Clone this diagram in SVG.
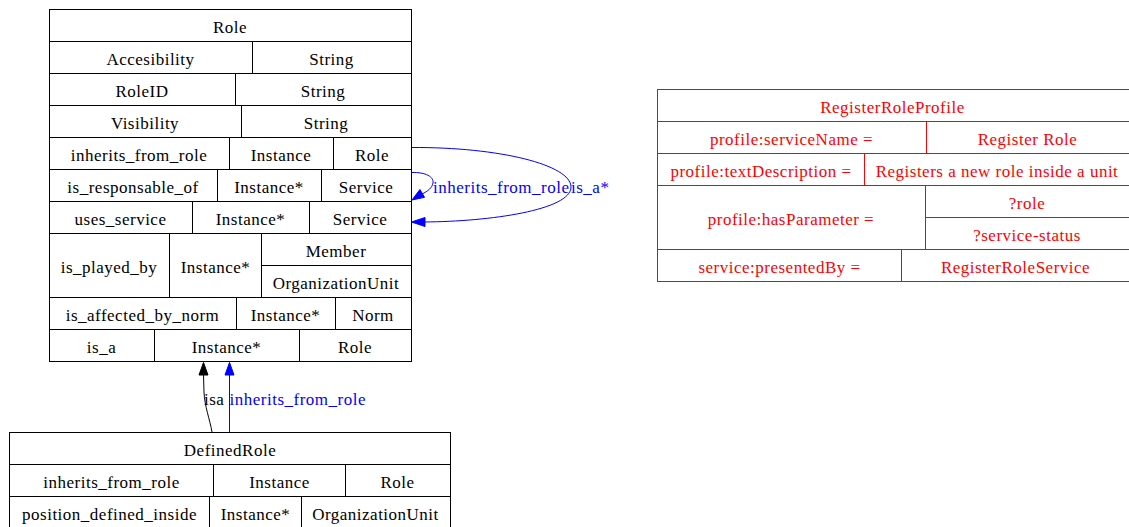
<svg xmlns="http://www.w3.org/2000/svg" width="1129" height="527" viewBox="0 0 1129 527">
<style>
text{font-family:"Liberation Serif","Times New Roman",serif;font-size:17px;letter-spacing:0.5px;text-anchor:middle}
.b rect,.b line{fill:none;stroke:#000;stroke-width:1}
.b text{fill:#000}
.r rect,.r line{fill:none;stroke:#ff0000;stroke-width:1}
.r text{fill:#ff0000}
.e{fill:none;stroke-width:1}
.blue{stroke:#0000ff}
.blk{stroke:#000}
.lb{fill:#0000ff;text-anchor:start}
.lk{fill:#000;text-anchor:start}
</style>
<rect width="1129" height="527" fill="#fff"/>
<g id="Role" class="b">
<rect x="49.5" y="9.5" width="362" height="352"/>
<line x1="49.5" y1="41.5" x2="411.5" y2="41.5"/>
<line x1="49.5" y1="73.5" x2="411.5" y2="73.5"/>
<line x1="49.5" y1="105.5" x2="411.5" y2="105.5"/>
<line x1="49.5" y1="137.5" x2="411.5" y2="137.5"/>
<line x1="49.5" y1="169.5" x2="411.5" y2="169.5"/>
<line x1="49.5" y1="201.5" x2="411.5" y2="201.5"/>
<line x1="49.5" y1="233.5" x2="411.5" y2="233.5"/>
<line x1="261.5" y1="265.5" x2="411.5" y2="265.5"/>
<line x1="49.5" y1="297.5" x2="411.5" y2="297.5"/>
<line x1="49.5" y1="329.5" x2="411.5" y2="329.5"/>
<line x1="252.5" y1="41.5" x2="252.5" y2="73.5"/>
<line x1="235.5" y1="73.5" x2="235.5" y2="105.5"/>
<line x1="241.5" y1="105.5" x2="241.5" y2="137.5"/>
<line x1="229.5" y1="137.5" x2="229.5" y2="169.5"/>
<line x1="333.5" y1="137.5" x2="333.5" y2="169.5"/>
<line x1="217.5" y1="169.5" x2="217.5" y2="201.5"/>
<line x1="321.5" y1="169.5" x2="321.5" y2="201.5"/>
<line x1="192.5" y1="201.5" x2="192.5" y2="233.5"/>
<line x1="309.5" y1="201.5" x2="309.5" y2="233.5"/>
<line x1="169.5" y1="233.5" x2="169.5" y2="297.5"/>
<line x1="261.5" y1="233.5" x2="261.5" y2="297.5"/>
<line x1="236.5" y1="297.5" x2="236.5" y2="329.5"/>
<line x1="335.5" y1="297.5" x2="335.5" y2="329.5"/>
<line x1="154.5" y1="329.5" x2="154.5" y2="361.5"/>
<line x1="299.5" y1="329.5" x2="299.5" y2="361.5"/>
<text x="230" y="33">Role</text>
<text x="150.5" y="65">Accesibility</text><text x="331.5" y="65">String</text>
<text x="142" y="97">RoleID</text><text x="323" y="97">String</text>
<text x="145" y="129">Visibility</text><text x="326" y="129">String</text>
<text x="139" y="161">inherits_from_role</text><text x="281" y="161">Instance</text><text x="372" y="161">Role</text>
<text x="133" y="193">is_responsable_of</text><text x="269" y="193">Instance*</text><text x="366" y="193">Service</text>
<text x="120.5" y="225">uses_service</text><text x="250.5" y="225">Instance*</text><text x="360" y="225">Service</text>
<text x="109" y="273">is_played_by</text><text x="215.5" y="273">Instance*</text><text x="336" y="257">Member</text><text x="336" y="289">OrganizationUnit</text>
<text x="142.5" y="321">is_affected_by_norm</text><text x="285.5" y="321">Instance*</text><text x="373" y="321">Norm</text>
<text x="101.5" y="353">is_a</text><text x="226.5" y="353">Instance*</text><text x="355" y="353">Role</text>
</g>
<g id="DefinedRole" class="b">
<rect x="9.5" y="432.5" width="441" height="100"/>
<line x1="9.5" y1="464.5" x2="450.5" y2="464.5"/>
<line x1="9.5" y1="496.5" x2="450.5" y2="496.5"/>
<line x1="213.5" y1="464.5" x2="213.5" y2="496.5"/>
<line x1="345.5" y1="464.5" x2="345.5" y2="496.5"/>
<line x1="209.5" y1="496.5" x2="209.5" y2="532"/>
<line x1="301.5" y1="496.5" x2="301.5" y2="532"/>
<text x="230" y="456">DefinedRole</text>
<text x="111.5" y="488">inherits_from_role</text><text x="279.5" y="488">Instance</text><text x="397.5" y="488">Role</text>
<text x="109.5" y="520">position_defined_inside</text><text x="255.5" y="520">Instance*</text><text x="375.5" y="520">OrganizationUnit</text>
</g>
<g id="RegisterRoleProfile" class="r">
<rect x="657.5" y="89.5" width="472" height="192"/>
<line x1="657.5" y1="121.5" x2="1129.5" y2="121.5"/>
<line x1="657.5" y1="153.5" x2="1129.5" y2="153.5"/>
<line x1="657.5" y1="185.5" x2="1129.5" y2="185.5"/>
<line x1="925.5" y1="217.5" x2="1129.5" y2="217.5"/>
<line x1="657.5" y1="249.5" x2="1129.5" y2="249.5"/>
<line x1="926.5" y1="121.5" x2="926.5" y2="153.5"/>
<line x1="864.5" y1="153.5" x2="864.5" y2="185.5"/>
<line x1="925.5" y1="185.5" x2="925.5" y2="249.5"/>
<line x1="901.5" y1="249.5" x2="901.5" y2="281.5"/>
<text x="892.5" y="113">RegisterRoleProfile</text>
<text x="791.5" y="145">profile:serviceName =</text><text x="1027.5" y="145">Register Role</text>
<text x="761" y="177">profile:textDescription =</text><text x="997" y="177">Registers a new role inside a unit</text>
<text x="791" y="225">profile:hasParameter =</text><text x="1027" y="209">?role</text><text x="1027" y="241">?service-status</text>
<text x="779.5" y="273">service:presentedBy =</text><text x="1015.5" y="273">RegisterRoleService</text>
</g>
<g id="connectors">
<path class="e blue" d="M411.5,147.5 C500,147 571,165 571,187 C571,210 490,221.5 424,222"/>
<polygon fill="#0000ff" stroke="#0000ff" points="411.5,222 425,217.5 425,226.5"/>
<path class="e blue" d="M411.5,172.5 C426,172 434,177 433,183 C432,188 428,191 422,194"/>
<polygon fill="#0000ff" stroke="#0000ff" points="412,200 424.5,197.3 419.9,189.5"/>
<text class="lb" x="433" y="193">inherits_from_role</text>
<text class="lb" x="571" y="193">is_a*</text>
<path class="e blk" d="M212,432 C210,420 204.5,406 204,392 L203.5,375"/>
<polygon fill="#000" stroke="#000" points="203.5,362.5 199,375 208,375"/>
<line class="e blue" x1="229.5" y1="432" x2="229.5" y2="375"/>
<polygon fill="#0000ff" stroke="#0000ff" points="229.5,362.5 225,375 234,375"/>
<text class="lk" x="204" y="405">isa</text>
<text class="lb" x="229.5" y="405">inherits_from_role</text>
</g>
</svg>
